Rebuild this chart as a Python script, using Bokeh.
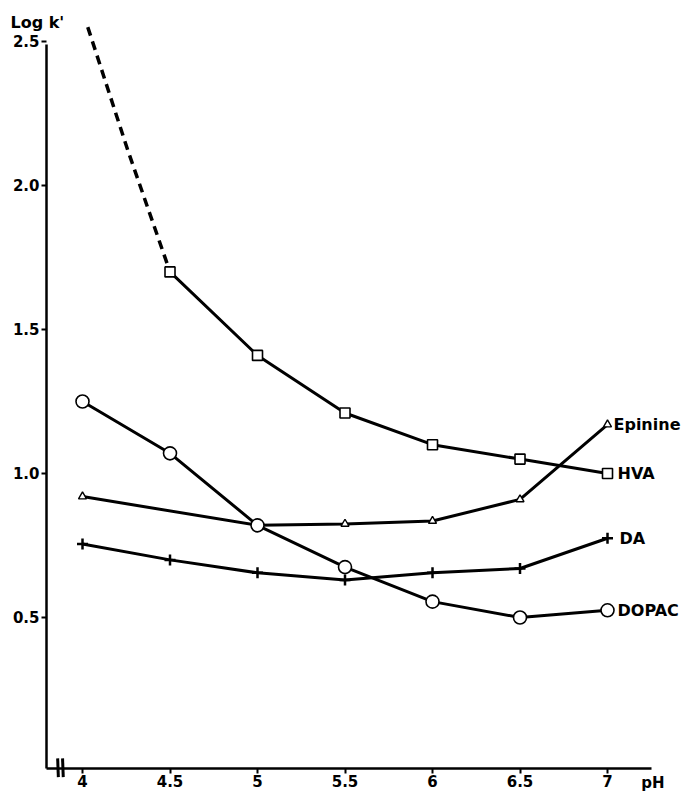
from bokeh.plotting import figure
from bokeh.models import Range1d, FixedTicker, Label, Arrow
from bokeh.embed import file_html
from bokeh.resources import INLINE

# ---- data ----
ph = [4, 4.5, 5, 5.5, 6, 6.5, 7]
hva_ph = [4.5, 5, 5.5, 6, 6.5, 7]
hva = [1.70, 1.41, 1.21, 1.10, 1.05, 1.00]
hva_extrap_ph = [4.03, 4.26, 4.5]
hva_extrap = [2.55, 2.12, 1.70]
epinine_ph = [4, 5, 5.5, 6, 6.5, 7]
epinine = [0.92, 0.82, 0.825, 0.835, 0.91, 1.17]
da = [0.755, 0.70, 0.655, 0.63, 0.655, 0.67, 0.775]
dopac = [1.25, 1.07, 0.82, 0.675, 0.555, 0.50, 0.525]

x_ticks = [4, 4.5, 5, 5.5, 6, 6.5, 7]
x_tick_labels = ["4", "4.5", "5", "5.5", "6", "6.5", "7"]
y_ticks = [0.5, 1.0, 1.5, 2.0, 2.5]
y_tick_labels = ["0.5", "1.0", "1.5", "2.0", "2.5"]

series_names = ["Epinine", "HVA", "DA", "DOPAC"]

FONT = "DejaVu Sans"
W, H = 687, 795
# view ranges (frame covers the whole canvas; axes are drawn at fixed locations)
X0, X1 = 3.5314, 3.5314 + W / 175.0
Y0, Y1 = -0.1181, -0.1181 + H / 288.0
X_AXIS_AT = -0.0243   # y value where the pH axis is drawn
Y_AXIS_AT = 3.7943    # x value where the log k' axis is drawn

p = figure(width=W, height=H, output_backend="svg", toolbar_location=None,
           x_range=Range1d(X0, X1), y_range=Range1d(Y0, Y1),
           min_border=0)
p.grid.visible = False
p.outline_line_color = None
p.background_fill_color = "white"

for ax in (p.xaxis, p.yaxis):
    ax.axis_line_width = 2.5
    ax.axis_line_color = "black"
    ax.major_tick_line_width = 2
    ax.major_tick_in = 0
    ax.major_tick_out = 5
    ax.minor_tick_line_color = None
    ax.major_label_text_font = FONT
    ax.major_label_text_font_style = "bold"
    ax.major_label_text_font_size = "15px"
    ax.major_label_text_color = "black"

p.xaxis.fixed_location = X_AXIS_AT
p.xaxis.ticker = FixedTicker(ticks=x_ticks)
p.xaxis.major_label_overrides = {t: l for t, l in zip(x_ticks, x_tick_labels)}
p.xaxis.bounds = (Y_AXIS_AT, 7.25)
p.xaxis.major_label_standoff = 2

p.yaxis.fixed_location = Y_AXIS_AT
p.yaxis.ticker = FixedTicker(ticks=y_ticks)
p.yaxis.major_label_overrides = {t: l for t, l in zip(y_ticks, y_tick_labels)}
p.yaxis.bounds = (X_AXIS_AT, 2.49)
p.yaxis.major_label_standoff = 2

LW = 3
# HVA dashed extrapolation
p.line(hva_extrap_ph, hva_extrap, line_width=3.5, color="black", line_dash="9 6")
# lines
p.line(hva_ph, hva, line_width=LW, color="black")
p.line(epinine_ph, epinine, line_width=LW, color="black")
p.line(ph, da, line_width=LW, color="black")
p.line(ph, dopac, line_width=LW, color="black")
# markers
p.scatter(hva_ph, hva, marker="square", size=10, fill_color="white",
          line_color="black", line_width=1.6)
p.scatter(epinine_ph, epinine, marker="triangle", size=8, fill_color="white",
          line_color="black", line_width=1.4)
p.scatter(ph, da, marker="cross", size=11, line_color="black", line_width=2.5)
p.scatter(ph, dopac, marker="circle", size=13, fill_color="white",
          line_color="black", line_width=1.6)

# series labels at the pH 7 end points
ends = [epinine[-1], hva[-1], da[-1], dopac[-1]]
offs = [6, 10, 12, 10]
for name, yv, xo in zip(series_names, ends, offs):
    p.add_layout(Label(x=x_ticks[-1], y=yv, text=name, x_offset=xo,
                       text_baseline="middle", text_align="left",
                       text_font=FONT, text_font_style="bold",
                       text_font_size="16px", text_color="black"))

# axis titles
p.add_layout(Label(x=Y_AXIS_AT, y=Y1, text="Log k'", x_offset=-36, y_offset=-22,
                   text_baseline="middle", text_align="left",
                   text_font=FONT, text_font_style="bold",
                   text_font_size="16px", text_color="black"))
p.add_layout(Label(x=7.26, y=X_AXIS_AT, text="pH", y_offset=-15,
                   text_baseline="middle", text_align="center",
                   text_font=FONT, text_font_style="bold",
                   text_font_size="15px", text_color="black"))

# axis break marks near the origin
for xb in (3.862, 3.89):
    p.add_layout(Arrow(end=None, x_start=xb, y_start=X_AXIS_AT - 0.03,
                       x_end=xb - 0.004, y_end=X_AXIS_AT + 0.035,
                       line_width=3, line_color="black"))

html = file_html(p, INLINE)
open("out.html", "w").write(html)
